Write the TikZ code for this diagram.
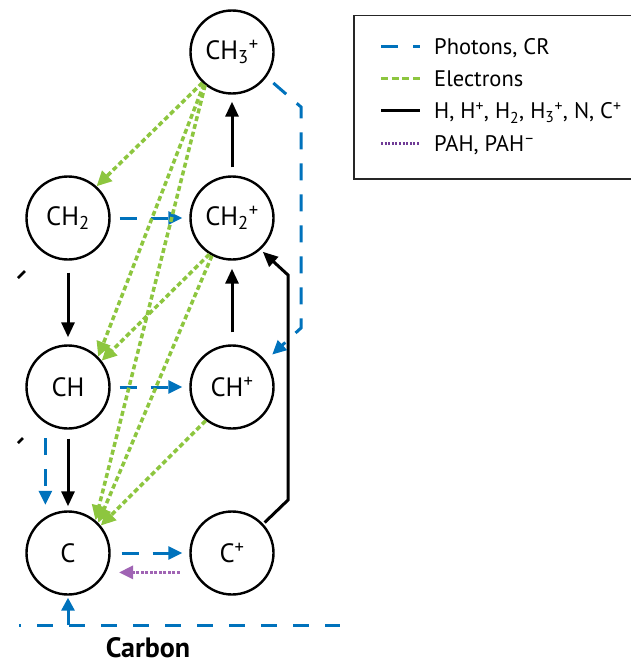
\documentclass[tikz,border=0pt]{standalone}
\usepackage{fontspec}
\setmainfont{PT Sans}
\usetikzlibrary{arrows.meta}
\definecolor{cblue}{RGB}{0,114,188}
\definecolor{cgreen}{RGB}{141,198,63}
\definecolor{cpurple}{RGB}{160,100,180}
\definecolor{cpurpleleg}{RGB}{112,60,150}
\begin{document}
\begin{tikzpicture}[x=1pt,y=-1pt,
  species/.style={circle,draw,line width=2.4pt,minimum size=83pt,inner sep=0pt,font=\fontsize{26.5}{30}\selectfont},
  photon/.style={cblue,line width=3pt,dash pattern=on 17pt off 14pt,-{Triangle[length=14pt,width=13pt]}},
  electron/.style={cgreen,line width=3.5pt,dash pattern=on 5pt off 3pt,-{Triangle[length=15pt,width=14pt]}},
  reaction/.style={black,line width=3pt,-{Triangle[length=15pt,width=13pt]}},
  pah/.style={cpurple,line width=3pt,dash pattern=on 3pt off 1.5pt,-{Triangle[length=14pt,width=13pt]}},
  legtext/.style={anchor=base west,inner sep=0pt,font=\fontsize{22.5}{26}\selectfont},
]
\useasboundingbox (0,0) rectangle (631,666);

% species
\node[species] (ch3) at (232,52) {CH\textsubscript{3}\textsuperscript{+}};
\node[species] (ch2) at (68,218) {CH\textsubscript{2}};
\node[species] (ch2p) at (232,218) {CH\textsubscript{2}\textsuperscript{+}};
\node[species] (ch) at (68,387) {CH};
\node[species] (chp) at (232,387) {CH\textsuperscript{+}};
\node[species] (c) at (68,553) {C};
\node[species] (cp) at (232,553) {C\textsuperscript{+}};

% black reactions
\draw[reaction,shorten <=8pt,shorten >=7pt] (ch2p) -- (ch3);
\draw[reaction,shorten <=12pt,shorten >=8pt] (chp) -- (ch2p);
\draw[reaction,shorten <=12pt,shorten >=7pt] (ch2) -- (ch);
\draw[reaction,shorten <=9pt,shorten >=4pt] (ch) -- (c);
\coordinate (k1) at (288,500);
\coordinate (k2) at (288,275);
\draw[reaction,shorten <=2pt,shorten >=3pt] (cp.43) -- (k1) -- (k2) -- (ch2p.312);

% photons
\draw[photon,shorten <=9pt,shorten >=7pt] (ch2) -- (ch2p);
\draw[photon,shorten <=9pt,shorten >=7pt] (ch) -- (chp);
\draw[photon,shorten <=11pt,shorten >=7pt] (c) -- (cp);
\draw[photon,shorten <=15pt,shorten >=12pt] (ch.238) -- (c.122);
\coordinate (b1) at (301,107);
\coordinate (b2) at (301,328);
\coordinate (b3) at (290,338);
\draw[photon,shorten <=9pt,shorten >=9pt] (ch3.324) -- (b1) -- (b2) -- (b3) -- (chp.38);
\coordinate (bl0) at (19,625);
\coordinate (bl1) at (340,625);
\coordinate (cin) at (68,625);
\draw[cblue,line width=3pt,dash pattern=on 16pt off 16pt,dash phase=14pt] (bl0) -- (bl1);
\draw[cblue,line width=3pt,-{Triangle[length=13pt,width=13pt]},shorten >=2pt] (cin) -- (c);

% PAH
\draw[pah,shorten <=14pt,shorten >=13pt] (cp.207) -- (c.333);

% electrons
\draw[electron] (ch3.226) -- (ch2.48);
\draw[electron] (ch3.229) -- (ch.45);
\draw[electron] (ch3.231) -- (c.50);
\draw[electron] (ch2p.238) -- (ch.38);
\draw[electron] (ch2p.242) -- (c.45);
\draw[electron] (chp.232) -- (c.40);

% cut-off fragments at the left edge
\coordinate (f1a) at (18,278); \coordinate (f1b) at (25,271);
\coordinate (f2a) at (18,443); \coordinate (f2b) at (23,438);
\draw[line width=2.5pt] (f1a) -- (f1b);
\draw[line width=2.5pt] (f2a) -- (f2b);

% label
\node[font=\bfseries\fontsize{28}{31}\selectfont,inner sep=0pt,anchor=base] (carbon) at (148,657) {Carbon};

% legend
\node[draw=black!85,line width=1.5pt,minimum width=282pt,minimum height=163pt,anchor=north west,inner sep=0pt] (legend) at (353,15) {};
\coordinate (la1) at (381,47); \coordinate (lb1) at (420,47);
\coordinate (la2) at (381,79); \coordinate (lb2) at (420,79);
\coordinate (la3) at (381,111); \coordinate (lb3) at (420,111);
\coordinate (la4) at (381,143); \coordinate (lb4) at (420,143);
\draw[cblue,line width=3pt,dash pattern=on 17pt off 15pt on 7pt off 5pt] (la1) -- (lb1);
\draw[cgreen,line width=3pt,dash pattern=on 7pt off 3.7pt] (la2) -- (lb2);
\draw[black,line width=3pt] (la3) -- (lb3);
\draw[cpurpleleg,line width=3pt,dash pattern=on 2pt off 1.6pt] (la4) -- (lb4);
\node[legtext] (t1) at (434,55) {Photons, CR};
\node[legtext] (t2) at (434,87) {Electrons};
\node[legtext] (t3) at (434,119) {H, H\textsuperscript{+}, H\textsubscript{2}, H\textsubscript{3}\textsuperscript{+}, N, C\textsuperscript{+}};
\node[legtext] (t4) at (434,151) {PAH, PAH\textsuperscript{–}};
\end{tikzpicture}
\end{document}
